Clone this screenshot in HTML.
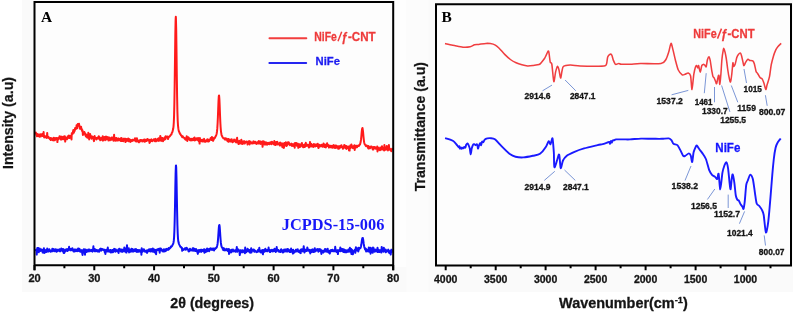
<!DOCTYPE html>
<html><head><meta charset="utf-8"><style>
html,body{margin:0;padding:0;background:#fff;}
body{width:793px;height:313px;overflow:hidden;font-family:"Liberation Sans",sans-serif;}
svg{display:block;will-change:transform;}
</style></head><body>
<svg width="793" height="313" viewBox="0 0 793 313">
<rect x="22" y="0" width="771" height="292" fill="#fafafa"/>
<rect x="395" y="0" width="11.5" height="267" fill="#fefefe"/>
<rect x="406.5" y="0" width="22" height="292" fill="#fcfcfc"/>
<rect x="35" y="3" width="357" height="261" fill="#fdfdfd"/>
<rect x="437" y="5" width="353" height="259" fill="#fdfdfd"/>
<polyline points="35.5,134.3 35.8,132.6 36.1,133.8 36.4,135.0 36.7,133.8 37.0,136.3 37.3,134.6 37.6,134.3 37.9,136.0 38.2,135.2 38.5,135.4 38.8,134.4 39.1,135.2 39.4,136.8 39.7,135.8 40.0,135.7 40.3,134.3 40.6,136.6 40.9,136.4 41.2,134.9 41.5,135.0 41.8,135.2 42.1,134.0 42.4,134.2 42.7,136.1 43.0,135.7 43.3,135.0 43.6,132.0 43.9,136.0 44.2,137.5 44.5,136.9 44.8,137.2 45.1,137.3 45.4,136.9 45.7,136.4 46.0,137.0 46.3,136.0 46.6,137.8 46.9,138.0 47.2,132.9 47.5,137.6 47.8,137.4 48.1,136.9 48.4,136.7 48.7,137.2 49.0,138.3 49.3,138.1 49.6,138.4 49.9,139.1 50.2,138.6 50.5,138.0 50.8,140.0 51.1,139.1 51.4,138.7 51.7,138.2 52.0,139.0 52.3,139.8 52.6,140.2 52.9,139.8 53.2,140.3 53.5,140.4 53.8,137.7 54.1,139.3 54.4,140.3 54.7,138.3 55.0,140.2 55.3,138.3 55.6,139.3 55.9,138.2 56.2,138.1 56.5,138.0 56.8,139.6 57.1,138.4 57.4,142.1 57.7,138.3 58.0,138.0 58.3,139.3 58.6,138.6 58.9,138.5 59.2,138.1 59.5,136.3 59.8,138.1 60.1,136.6 60.4,136.7 60.7,139.4 61.0,136.6 61.3,138.9 61.6,139.5 61.9,138.2 62.2,137.4 62.5,139.0 62.8,138.4 63.1,136.7 63.4,136.9 63.7,139.2 64.0,136.5 64.3,138.6 64.6,136.4 64.9,136.2 65.2,141.6 65.5,139.1 65.8,137.7 66.1,138.3 66.4,138.1 66.7,139.0 67.0,139.2 67.3,138.7 67.6,136.4 67.9,137.5 68.2,137.9 68.5,135.8 68.8,135.6 69.1,137.3 69.4,137.4 69.7,137.9 70.0,135.7 70.3,136.5 70.6,136.0 70.9,136.1 71.2,135.9 71.5,139.5 71.8,133.3 72.1,133.2 72.4,133.1 72.7,133.9 73.0,131.7 73.3,130.1 73.6,131.6 73.9,132.7 74.2,130.1 74.5,131.2 74.8,130.2 75.1,128.1 75.4,129.0 75.7,129.1 76.0,127.8 76.3,128.6 76.6,125.2 76.9,125.8 77.2,128.3 77.5,125.6 77.8,124.0 78.1,125.9 78.4,124.0 78.7,124.7 79.0,123.7 79.3,125.7 79.6,126.1 79.9,128.7 80.2,127.1 80.5,126.7 80.8,126.9 81.1,126.8 81.4,129.4 81.7,128.9 82.0,130.8 82.3,130.0 82.6,130.8 82.9,135.0 83.2,133.4 83.5,132.6 83.8,133.2 84.1,133.7 84.4,132.1 84.7,133.9 85.0,133.1 85.3,135.2 85.6,135.4 85.9,136.5 86.2,134.5 86.5,136.2 86.8,135.9 87.1,137.5 87.4,137.7 87.7,137.5 88.0,137.5 88.3,132.8 88.6,137.1 88.9,137.6 89.2,139.4 89.5,137.9 89.8,136.6 90.1,134.1 90.4,136.5 90.7,135.4 91.0,136.9 91.3,137.1 91.6,138.7 91.9,138.3 92.2,136.4 92.5,137.4 92.8,136.9 93.1,138.5 93.4,138.0 93.7,140.2 94.0,141.1 94.3,138.8 94.6,136.1 94.9,138.5 95.2,138.5 95.5,138.3 95.8,137.9 96.1,138.3 96.4,139.5 96.7,138.1 97.0,138.9 97.3,138.1 97.6,137.5 97.9,137.8 98.2,137.3 98.5,138.6 98.8,136.2 99.1,138.7 99.4,136.9 99.7,139.4 100.0,137.8 100.3,140.3 100.6,139.0 100.9,138.7 101.2,138.7 101.5,139.8 101.8,137.7 102.1,138.5 102.4,137.7 102.7,136.3 103.0,140.7 103.3,138.9 103.6,138.5 103.9,138.6 104.2,137.1 104.5,137.0 104.8,137.6 105.1,140.2 105.4,138.8 105.7,139.9 106.0,136.5 106.3,137.9 106.6,139.2 106.9,138.0 107.2,138.3 107.5,138.6 107.8,136.9 108.1,137.6 108.4,140.5 108.7,138.7 109.0,139.4 109.3,138.1 109.6,137.6 109.9,140.3 110.2,139.6 110.5,138.6 110.8,139.1 111.1,139.0 111.4,139.8 111.7,137.5 112.0,139.6 112.3,138.6 112.6,139.3 112.9,138.2 113.2,137.3 113.5,140.7 113.8,139.4 114.1,134.7 114.4,139.6 114.7,139.9 115.0,140.4 115.3,138.0 115.6,140.7 115.9,140.3 116.2,139.5 116.5,138.1 116.8,140.5 117.1,138.8 117.4,139.0 117.7,139.4 118.0,140.5 118.3,138.5 118.6,139.7 118.9,138.6 119.2,139.9 119.5,139.3 119.8,139.0 120.1,139.3 120.4,140.9 120.7,138.4 121.0,138.1 121.3,138.4 121.6,138.0 121.9,141.1 122.2,139.0 122.5,139.2 122.8,139.2 123.1,140.1 123.4,141.2 123.7,139.0 124.0,138.5 124.3,139.3 124.6,139.1 124.9,139.4 125.2,138.7 125.5,142.1 125.8,139.8 126.1,141.4 126.4,140.8 126.7,138.9 127.0,139.6 127.3,140.5 127.6,139.0 127.9,140.8 128.2,138.4 128.5,141.2 128.8,140.9 129.1,140.4 129.4,139.1 129.7,139.6 130.0,139.8 130.3,141.9 130.6,140.0 130.9,140.5 131.2,140.1 131.5,140.2 131.8,141.1 132.1,141.0 132.4,139.7 132.7,139.8 133.0,140.1 133.3,140.4 133.6,140.2 133.9,139.7 134.2,139.7 134.5,140.0 134.8,138.6 135.1,138.2 135.4,141.2 135.7,140.6 136.0,139.1 136.3,139.5 136.6,141.5 136.9,138.2 137.2,140.7 137.5,140.2 137.8,141.4 138.1,140.5 138.4,141.6 138.7,142.1 139.0,142.4 139.3,140.4 139.6,141.6 139.9,141.5 140.2,139.9 140.5,140.5 140.8,140.0 141.1,140.8 141.4,140.3 141.7,140.0 142.0,141.0 142.3,141.5 142.6,141.0 142.9,141.0 143.2,140.1 143.5,140.1 143.8,140.4 144.1,139.6 144.4,141.7 144.7,140.1 145.0,139.6 145.3,141.6 145.6,140.4 145.9,140.1 146.2,140.7 146.5,141.0 146.8,139.4 147.1,140.3 147.4,138.9 147.7,139.9 148.0,139.9 148.3,140.4 148.6,139.7 148.9,139.7 149.2,139.7 149.5,142.9 149.8,142.5 150.1,140.2 150.4,141.5 150.7,140.7 151.0,140.0 151.3,139.4 151.6,141.0 151.9,140.6 152.2,140.9 152.5,141.1 152.8,140.8 153.1,140.2 153.4,139.6 153.7,139.7 154.0,139.2 154.3,139.6 154.6,139.7 154.9,141.2 155.2,139.6 155.5,138.9 155.8,141.1 156.1,141.3 156.4,140.6 156.7,140.7 157.0,139.9 157.3,140.2 157.6,138.9 157.9,140.6 158.2,140.9 158.5,138.3 158.8,139.9 159.1,140.7 159.4,139.4 159.7,140.1 160.0,138.8 160.3,135.9 160.6,138.9 160.9,138.3 161.2,141.0 161.5,138.4 161.8,137.9 162.1,138.4 162.4,138.5 162.7,138.0 163.0,141.2 163.3,139.7 163.6,138.7 163.9,139.5 164.2,139.0 164.5,139.8 164.8,137.2 165.1,137.8 165.4,139.1 165.7,136.2 166.0,138.0 166.3,137.0 166.6,136.8 166.9,137.1 167.2,137.2 167.5,136.6 167.8,136.6 168.1,139.1 168.4,137.6 168.7,137.3 169.0,136.7 169.3,136.7 169.6,136.5 169.9,135.9 170.2,135.9 170.5,135.2 170.8,134.9 171.1,134.6 171.4,134.5 171.7,133.2 172.0,132.6 172.3,132.3 172.6,131.2 172.9,130.0 173.2,128.8 173.5,126.6 173.8,122.5 174.1,115.0 174.4,102.1 174.7,83.0 175.0,59.2 175.3,35.9 175.6,20.2 175.8,16.7 175.9,17.8 176.2,29.5 176.5,51.1 176.8,75.4 177.1,96.4 177.4,111.4 177.7,120.5 178.0,125.5 178.3,128.2 178.6,130.0 178.9,131.4 179.2,131.8 179.5,132.7 179.8,133.3 180.1,134.0 180.4,134.2 180.7,134.6 181.0,135.5 181.3,135.4 181.6,135.7 181.9,136.3 182.2,137.3 182.5,136.5 182.8,136.3 183.1,137.3 183.4,137.2 183.7,137.5 184.0,137.6 184.3,137.9 184.6,138.8 184.9,138.7 185.2,139.2 185.5,139.6 185.8,137.9 186.1,138.8 186.4,139.7 186.7,136.2 187.0,137.4 187.3,140.9 187.6,137.4 187.9,139.0 188.2,137.3 188.5,138.4 188.8,137.6 189.1,138.9 189.4,139.7 189.7,140.0 190.0,140.2 190.3,139.1 190.6,138.9 190.9,139.9 191.2,140.4 191.5,139.8 191.8,138.7 192.1,140.1 192.4,140.1 192.7,140.2 193.0,139.6 193.3,138.8 193.6,138.3 193.9,139.9 194.2,139.0 194.5,137.6 194.8,140.5 195.1,139.5 195.4,139.2 195.7,140.0 196.0,138.5 196.3,139.4 196.6,138.9 196.9,138.4 197.2,139.3 197.5,139.9 197.8,139.9 198.1,138.0 198.4,140.3 198.7,141.3 199.0,140.7 199.3,140.3 199.6,143.6 199.9,138.1 200.2,140.7 200.5,139.7 200.8,140.4 201.1,140.4 201.4,141.2 201.7,140.0 202.0,139.7 202.3,140.2 202.6,139.8 202.9,141.6 203.2,141.4 203.5,141.2 203.8,139.6 204.1,138.9 204.4,141.0 204.7,141.6 205.0,141.3 205.3,141.1 205.6,141.6 205.9,140.6 206.2,140.8 206.5,140.9 206.8,141.1 207.1,139.5 207.4,140.5 207.7,139.3 208.0,141.4 208.3,140.4 208.6,140.8 208.9,141.4 209.2,141.1 209.5,139.7 209.8,139.8 210.1,139.2 210.4,139.5 210.7,137.9 211.0,139.2 211.3,140.0 211.6,139.1 211.9,136.9 212.2,140.0 212.5,139.8 212.8,137.8 213.1,140.8 213.4,140.0 213.7,139.5 214.0,138.3 214.3,138.0 214.6,138.2 214.9,138.0 215.2,137.0 215.5,136.7 215.8,136.0 216.1,135.5 216.4,134.6 216.7,133.4 217.0,131.4 217.3,128.4 217.6,123.6 217.9,117.0 218.2,109.1 218.5,101.4 218.8,96.3 219.0,95.5 219.1,95.5 219.4,99.4 219.7,106.4 220.0,114.5 220.3,121.7 220.6,127.0 220.9,130.6 221.2,132.8 221.5,134.5 221.8,135.8 222.1,136.0 222.4,136.7 222.7,137.3 223.0,137.6 223.3,138.2 223.6,138.3 223.9,138.3 224.2,138.6 224.5,138.2 224.8,139.5 225.1,139.4 225.4,138.2 225.7,138.6 226.0,139.8 226.3,139.1 226.6,138.7 226.9,138.7 227.2,139.5 227.5,141.2 227.8,140.0 228.1,139.7 228.4,139.0 228.7,141.8 229.0,140.0 229.3,139.7 229.6,140.4 229.9,139.5 230.2,140.3 230.5,141.5 230.8,141.1 231.1,141.4 231.4,140.8 231.7,139.3 232.0,140.1 232.3,141.7 232.6,142.2 232.9,140.8 233.2,141.2 233.5,141.1 233.8,141.4 234.1,139.5 234.4,140.2 234.7,140.1 235.0,140.6 235.3,141.1 235.6,142.0 235.9,141.6 236.2,142.5 236.5,139.2 236.8,141.5 237.1,137.8 237.4,142.1 237.7,141.1 238.0,142.8 238.3,141.4 238.6,144.1 238.9,143.5 239.2,140.8 239.5,142.1 239.8,141.6 240.1,143.5 240.4,142.7 240.7,142.1 241.0,142.4 241.3,139.7 241.6,143.3 241.9,143.7 242.2,144.0 242.5,142.6 242.8,141.5 243.1,141.3 243.4,141.8 243.7,143.5 244.0,141.9 244.3,141.2 244.6,143.6 244.9,142.7 245.2,142.8 245.5,142.1 245.8,142.2 246.1,141.7 246.4,141.5 246.7,141.7 247.0,141.5 247.3,142.5 247.6,144.5 247.9,142.5 248.2,142.0 248.5,143.4 248.8,142.6 249.1,141.0 249.4,141.9 249.7,144.4 250.0,141.9 250.3,141.7 250.6,141.6 250.9,142.6 251.2,142.4 251.5,142.4 251.8,143.6 252.1,143.6 252.4,142.6 252.7,142.7 253.0,143.1 253.3,141.5 253.6,141.4 253.9,143.3 254.2,142.9 254.5,142.0 254.8,142.6 255.1,142.1 255.4,141.7 255.7,143.2 256.0,143.2 256.3,144.0 256.6,143.2 256.9,142.5 257.2,143.6 257.5,143.1 257.8,141.9 258.1,143.6 258.4,142.2 258.7,141.1 259.0,142.5 259.3,143.6 259.6,143.2 259.9,141.3 260.2,142.5 260.5,141.7 260.8,143.9 261.1,143.8 261.4,141.8 261.7,143.3 262.0,142.7 262.3,143.8 262.6,146.8 262.9,141.3 263.2,143.8 263.5,141.7 263.8,141.4 264.1,142.2 264.4,144.3 264.7,144.1 265.0,144.6 265.3,142.2 265.6,143.9 265.9,143.1 266.2,143.9 266.5,142.5 266.8,144.1 267.1,144.8 267.4,143.9 267.7,142.9 268.0,143.9 268.3,143.6 268.6,143.9 268.9,142.7 269.2,144.2 269.5,143.9 269.8,143.9 270.1,143.4 270.4,142.3 270.7,143.0 271.0,143.8 271.3,144.2 271.6,142.9 271.9,141.7 272.2,142.1 272.5,143.6 272.8,143.4 273.1,143.7 273.4,143.9 273.7,144.2 274.0,144.3 274.3,141.1 274.6,143.6 274.9,143.1 275.2,145.1 275.5,144.2 275.8,144.3 276.1,142.1 276.4,144.4 276.7,143.3 277.0,142.4 277.3,141.8 277.6,144.4 277.9,144.3 278.2,144.2 278.5,144.2 278.8,144.3 279.1,144.3 279.4,142.9 279.7,145.4 280.0,142.7 280.3,142.5 280.6,142.9 280.9,143.3 281.2,145.5 281.5,144.3 281.8,144.9 282.1,143.5 282.4,147.2 282.7,146.7 283.0,143.6 283.3,145.2 283.6,145.1 283.9,148.0 284.2,145.5 284.5,143.1 284.8,143.9 285.1,145.6 285.4,143.0 285.7,142.4 286.0,143.9 286.3,145.9 286.6,146.0 286.9,144.0 287.2,142.6 287.5,144.9 287.8,143.4 288.1,142.4 288.4,142.3 288.7,142.3 289.0,142.9 289.3,143.7 289.6,144.4 289.9,145.2 290.2,144.6 290.5,144.7 290.8,144.0 291.1,144.3 291.4,143.6 291.7,144.7 292.0,146.0 292.3,144.9 292.6,144.2 292.9,144.8 293.2,144.9 293.5,145.8 293.8,146.2 294.1,145.4 294.4,143.4 294.7,147.7 295.0,143.0 295.3,144.6 295.6,145.4 295.9,143.0 296.2,143.0 296.5,144.1 296.8,145.7 297.1,143.5 297.4,145.7 297.7,143.7 298.0,143.9 298.3,147.8 298.6,145.1 298.9,144.7 299.2,145.3 299.5,144.3 299.8,146.9 300.1,146.5 300.4,146.8 300.7,144.6 301.0,145.2 301.3,145.4 301.6,145.4 301.9,142.9 302.2,145.8 302.5,146.3 302.8,146.2 303.1,147.1 303.4,146.4 303.7,147.1 304.0,144.7 304.3,144.7 304.6,146.8 304.9,147.0 305.2,144.2 305.5,145.9 305.8,142.8 306.1,146.0 306.4,144.2 306.7,144.9 307.0,145.0 307.3,145.7 307.6,144.9 307.9,145.5 308.2,145.7 308.5,144.9 308.8,147.5 309.1,146.7 309.4,147.3 309.7,146.9 310.0,141.9 310.3,143.7 310.6,146.1 310.9,145.5 311.2,145.9 311.5,144.1 311.8,146.5 312.1,144.7 312.4,144.7 312.7,145.8 313.0,146.6 313.3,145.4 313.6,146.9 313.9,144.0 314.2,145.5 314.5,146.0 314.8,145.1 315.1,144.5 315.4,146.4 315.7,145.1 316.0,145.2 316.3,144.5 316.6,146.1 316.9,144.6 317.2,144.8 317.5,146.2 317.8,143.8 318.1,146.7 318.4,148.0 318.7,147.7 319.0,146.5 319.3,145.1 319.6,144.9 319.9,145.3 320.2,145.5 320.5,146.3 320.8,146.4 321.1,144.9 321.4,144.9 321.7,144.8 322.0,145.0 322.3,145.5 322.6,146.8 322.9,144.7 323.2,145.7 323.5,143.4 323.8,144.4 324.1,145.0 324.4,146.9 324.7,145.8 325.0,144.9 325.3,144.7 325.6,145.6 325.9,147.4 326.2,144.5 326.5,146.4 326.8,144.4 327.1,143.3 327.4,145.0 327.7,146.0 328.0,144.8 328.3,146.1 328.6,145.6 328.9,147.6 329.2,146.3 329.5,145.6 329.8,146.0 330.1,146.0 330.4,147.3 330.7,145.7 331.0,147.3 331.3,146.4 331.6,146.0 331.9,145.9 332.2,147.7 332.5,147.4 332.8,146.5 333.1,147.6 333.4,145.3 333.7,145.1 334.0,145.9 334.3,146.1 334.6,147.7 334.9,145.9 335.2,148.1 335.5,145.6 335.8,147.6 336.1,147.8 336.4,145.7 336.7,145.9 337.0,145.9 337.3,146.7 337.6,147.8 337.9,147.6 338.2,148.9 338.5,146.2 338.8,147.6 339.1,147.9 339.4,148.4 339.7,148.2 340.0,146.0 340.3,146.8 340.6,145.9 340.9,146.8 341.2,147.1 341.5,145.3 341.8,147.2 342.1,147.0 342.4,146.8 342.7,146.9 343.0,148.8 343.3,147.1 343.6,146.9 343.9,146.6 344.2,145.1 344.5,147.5 344.8,147.7 345.1,145.5 345.4,146.3 345.7,148.2 346.0,147.4 346.3,148.9 346.6,145.9 346.9,146.4 347.2,147.9 347.5,147.4 347.8,148.1 348.1,147.4 348.4,148.1 348.7,146.5 349.0,150.3 349.3,148.5 349.6,150.6 349.9,146.2 350.2,148.3 350.5,145.2 350.8,147.8 351.1,146.0 351.4,144.4 351.7,146.3 352.0,146.9 352.3,146.2 352.6,147.7 352.9,148.1 353.2,146.7 353.5,147.6 353.8,145.9 354.1,146.2 354.4,145.2 354.7,150.0 355.0,146.8 355.3,145.7 355.6,146.2 355.9,147.4 356.2,147.4 356.5,145.8 356.8,147.2 357.1,147.2 357.4,146.3 357.7,145.9 358.0,145.7 358.3,145.5 358.6,145.7 358.9,145.9 359.2,145.2 359.5,145.2 359.8,144.4 360.1,144.3 360.4,143.1 360.7,141.8 361.0,139.7 361.3,136.8 361.6,133.4 361.9,130.4 362.2,128.4 362.4,129.3 362.5,127.9 362.8,129.8 363.1,132.4 363.4,135.9 363.7,138.9 364.0,141.3 364.3,143.0 364.6,144.0 364.9,144.5 365.2,144.8 365.5,144.9 365.8,145.9 366.1,146.1 366.4,145.6 366.7,145.5 367.0,145.6 367.3,146.5 367.6,146.2 367.9,147.1 368.2,148.4 368.5,145.9 368.8,148.5 369.1,146.8 369.4,147.1 369.7,147.4 370.0,148.2 370.3,147.2 370.6,147.8 370.9,146.5 371.2,146.8 371.5,146.6 371.8,146.7 372.1,147.6 372.4,147.5 372.7,149.4 373.0,148.6 373.3,149.6 373.6,147.0 373.9,148.1 374.2,148.0 374.5,147.4 374.8,148.2 375.1,147.1 375.4,147.6 375.7,148.8 376.0,147.7 376.3,147.5 376.6,147.9 376.9,148.4 377.2,146.6 377.5,151.4 377.8,148.6 378.1,147.5 378.4,148.3 378.7,149.4 379.0,149.7 379.3,148.7 379.6,148.7 379.9,150.3 380.2,147.5 380.5,149.9 380.8,148.4 381.1,149.4 381.4,149.1 381.7,149.5 382.0,146.2 382.3,148.8 382.6,149.0 382.9,148.2 383.2,149.6 383.5,149.8 383.8,147.8 384.1,150.5 384.4,145.0 384.7,150.2 385.0,147.7 385.3,148.9 385.6,148.8 385.9,147.3 386.2,149.6 386.5,149.4 386.8,145.9 387.1,149.1 387.4,149.4 387.7,148.3 388.0,150.4 388.3,148.8 388.6,148.3 388.9,145.0 389.2,149.5 389.5,149.5 389.8,149.1 390.1,148.9 390.4,150.2 390.7,150.2 391.0,149.4 391.3,151.2 391.6,149.4 391.9,148.9 392.2,149.8" fill="none" stroke="#ff1a1a" stroke-width="2.0" stroke-linejoin="round"/>
<polyline points="35.5,251.1 35.8,250.1 36.1,250.6 36.4,249.5 36.7,254.6 37.0,251.5 37.3,248.0 37.6,251.2 37.9,249.8 38.2,248.0 38.5,251.9 38.8,252.1 39.1,250.1 39.4,251.0 39.7,248.4 40.0,249.8 40.3,251.0 40.6,250.9 40.9,250.1 41.2,249.4 41.5,250.7 41.8,249.8 42.1,250.8 42.4,250.6 42.7,252.6 43.0,250.2 43.3,250.1 43.6,249.9 43.9,248.2 44.2,252.9 44.5,249.6 44.8,251.0 45.1,251.3 45.4,250.1 45.7,252.2 46.0,251.0 46.3,252.0 46.6,251.3 46.9,250.2 47.2,248.6 47.5,249.0 47.8,251.0 48.1,251.7 48.4,250.6 48.7,251.3 49.0,251.0 49.3,249.2 49.6,251.1 49.9,250.8 50.2,250.3 50.5,251.7 50.8,251.7 51.1,250.7 51.4,251.4 51.7,250.9 52.0,250.6 52.3,248.8 52.6,251.2 52.9,250.5 53.2,249.5 53.5,249.0 53.8,250.4 54.1,250.7 54.4,251.2 54.7,250.5 55.0,250.9 55.3,249.2 55.6,251.1 55.9,249.6 56.2,249.7 56.5,251.8 56.8,249.6 57.1,250.8 57.4,251.2 57.7,250.4 58.0,249.8 58.3,249.9 58.6,250.3 58.9,250.7 59.2,250.9 59.5,249.3 59.8,250.7 60.1,251.4 60.4,251.2 60.7,249.7 61.0,250.5 61.3,248.5 61.6,250.2 61.9,249.0 62.2,249.0 62.5,250.7 62.8,251.2 63.1,248.9 63.4,251.6 63.7,253.0 64.0,251.7 64.3,253.0 64.6,250.6 64.9,251.9 65.2,249.4 65.5,250.3 65.8,250.9 66.1,250.8 66.4,250.2 66.7,250.4 67.0,248.9 67.3,250.5 67.6,251.0 67.9,250.2 68.2,250.3 68.5,250.0 68.8,249.1 69.1,246.8 69.4,249.6 69.7,249.7 70.0,249.1 70.3,250.4 70.6,249.0 70.9,249.0 71.2,248.8 71.5,250.1 71.8,250.2 72.1,250.3 72.4,248.3 72.7,250.0 73.0,249.8 73.3,250.1 73.6,251.5 73.9,250.5 74.2,249.6 74.5,251.5 74.8,249.5 75.1,250.0 75.4,249.5 75.7,250.5 76.0,251.1 76.3,249.7 76.6,250.7 76.9,250.6 77.2,251.1 77.5,249.3 77.8,249.7 78.1,248.6 78.4,250.1 78.7,248.6 79.0,251.1 79.3,249.5 79.6,249.1 79.9,251.5 80.2,251.7 80.5,250.3 80.8,251.4 81.1,251.7 81.4,250.3 81.7,251.6 82.0,250.2 82.3,253.8 82.6,255.0 82.9,251.0 83.2,250.4 83.5,251.3 83.8,249.2 84.1,249.4 84.4,252.6 84.7,250.4 85.0,254.7 85.3,249.6 85.6,252.4 85.9,250.5 86.2,249.9 86.5,250.3 86.8,251.9 87.1,251.4 87.4,250.9 87.7,250.0 88.0,250.6 88.3,249.4 88.6,250.0 88.9,251.6 89.2,249.8 89.5,249.5 89.8,250.1 90.1,250.5 90.4,250.7 90.7,250.2 91.0,251.1 91.3,250.2 91.6,249.9 91.9,250.8 92.2,250.9 92.5,251.6 92.8,251.0 93.1,249.1 93.4,246.3 93.7,250.7 94.0,250.7 94.3,249.7 94.6,248.9 94.9,251.3 95.2,250.7 95.5,251.1 95.8,249.8 96.1,250.9 96.4,250.2 96.7,250.3 97.0,250.0 97.3,251.5 97.6,251.0 97.9,251.5 98.2,250.6 98.5,250.3 98.8,251.4 99.1,251.6 99.4,249.9 99.7,249.5 100.0,249.0 100.3,250.5 100.6,249.4 100.9,248.6 101.2,250.7 101.5,249.0 101.8,248.9 102.1,249.4 102.4,249.7 102.7,249.1 103.0,249.5 103.3,250.1 103.6,250.0 103.9,249.7 104.2,250.6 104.5,249.7 104.8,252.3 105.1,250.1 105.4,253.9 105.7,250.8 106.0,251.3 106.3,249.7 106.6,250.1 106.9,249.8 107.2,251.6 107.5,251.3 107.8,247.6 108.1,250.5 108.4,250.2 108.7,251.1 109.0,251.6 109.3,250.3 109.6,250.7 109.9,250.5 110.2,250.1 110.5,252.2 110.8,250.0 111.1,252.6 111.4,250.2 111.7,251.8 112.0,251.8 112.3,251.3 112.6,250.0 112.9,252.3 113.2,250.2 113.5,251.8 113.8,249.4 114.1,248.9 114.4,249.3 114.7,249.0 115.0,250.0 115.3,250.1 115.6,251.7 115.9,249.5 116.2,251.0 116.5,250.4 116.8,251.0 117.1,251.1 117.4,251.5 117.7,251.0 118.0,251.2 118.3,249.4 118.6,252.9 118.9,249.4 119.2,248.7 119.5,250.8 119.8,250.3 120.1,249.7 120.4,249.4 120.7,250.8 121.0,251.5 121.3,250.7 121.6,249.4 121.9,251.2 122.2,251.9 122.5,249.9 122.8,249.7 123.1,249.9 123.4,250.3 123.7,250.7 124.0,251.5 124.3,247.5 124.6,248.6 124.9,248.4 125.2,249.2 125.5,248.9 125.8,251.9 126.1,249.5 126.4,252.6 126.7,248.4 127.0,245.2 127.3,249.4 127.6,250.9 127.9,250.5 128.2,251.2 128.5,248.6 128.8,248.3 129.1,252.4 129.4,250.2 129.7,250.0 130.0,250.6 130.3,249.8 130.6,250.0 130.9,251.8 131.2,250.2 131.5,248.8 131.8,250.2 132.1,250.9 132.4,249.7 132.7,249.1 133.0,251.7 133.3,251.5 133.6,251.1 133.9,251.3 134.2,250.5 134.5,250.1 134.8,249.4 135.1,250.3 135.4,251.3 135.7,251.0 136.0,249.1 136.3,249.7 136.6,249.9 136.9,251.9 137.2,251.4 137.5,249.9 137.8,250.3 138.1,250.1 138.4,251.8 138.7,250.2 139.0,250.0 139.3,251.6 139.6,251.6 139.9,250.3 140.2,251.1 140.5,251.8 140.8,250.5 141.1,250.2 141.4,254.8 141.7,248.3 142.0,249.6 142.3,252.0 142.6,249.6 142.9,250.7 143.2,250.2 143.5,250.5 143.8,249.2 144.1,249.6 144.4,251.4 144.7,250.7 145.0,250.7 145.3,251.4 145.6,251.8 145.9,250.8 146.2,250.6 146.5,251.8 146.8,250.7 147.1,252.9 147.4,251.3 147.7,251.0 148.0,249.9 148.3,250.1 148.6,249.5 148.9,251.2 149.2,250.3 149.5,250.1 149.8,249.2 150.1,250.5 150.4,251.5 150.7,251.4 151.0,249.2 151.3,249.0 151.6,249.4 151.9,249.3 152.2,251.4 152.5,250.6 152.8,248.6 153.1,251.7 153.4,249.0 153.7,249.3 154.0,249.8 154.3,251.7 154.6,252.4 154.9,249.7 155.2,250.2 155.5,250.1 155.8,251.3 156.1,254.2 156.4,249.7 156.7,250.7 157.0,249.4 157.3,249.9 157.6,249.2 157.9,249.6 158.2,249.2 158.5,250.3 158.8,249.8 159.1,248.7 159.4,250.1 159.7,252.7 160.0,248.6 160.3,248.6 160.6,249.2 160.9,248.6 161.2,250.2 161.5,249.3 161.8,249.7 162.1,250.1 162.4,251.4 162.7,251.0 163.0,251.1 163.3,251.5 163.6,250.4 163.9,249.3 164.2,251.6 164.5,249.6 164.8,250.9 165.1,251.3 165.4,250.6 165.7,249.3 166.0,250.8 166.3,248.9 166.6,249.2 166.9,248.9 167.2,249.9 167.5,249.4 167.8,249.5 168.1,249.1 168.4,249.8 168.7,248.0 169.0,249.1 169.3,248.2 169.6,248.5 169.9,248.3 170.2,247.8 170.5,247.7 170.8,246.5 171.1,247.1 171.4,246.6 171.7,246.3 172.0,246.2 172.3,245.5 172.6,244.9 172.9,244.3 173.2,243.8 173.5,242.5 173.8,240.7 174.1,237.1 174.4,230.8 174.7,220.4 175.0,205.9 175.3,189.0 175.6,174.0 175.9,165.8 176.0,165.4 176.2,167.6 176.5,178.5 176.8,194.7 177.1,211.1 177.4,224.4 177.7,233.3 178.0,238.5 178.3,241.3 178.6,242.6 178.9,243.6 179.2,244.4 179.5,245.0 179.8,245.5 180.1,246.2 180.4,246.8 180.7,246.8 181.0,247.4 181.3,247.4 181.6,248.1 181.9,247.8 182.2,250.8 182.5,249.0 182.8,248.9 183.1,249.5 183.4,250.0 183.7,249.5 184.0,249.4 184.3,249.0 184.6,248.7 184.9,248.4 185.2,248.2 185.5,249.7 185.8,249.7 186.1,248.1 186.4,247.8 186.7,249.2 187.0,248.2 187.3,248.5 187.6,249.6 187.9,249.6 188.2,249.6 188.5,251.2 188.8,251.4 189.1,250.7 189.4,250.5 189.7,250.9 190.0,248.7 190.3,250.3 190.6,249.4 190.9,249.8 191.2,250.0 191.5,250.0 191.8,249.9 192.1,250.6 192.4,249.7 192.7,248.2 193.0,250.1 193.3,250.6 193.6,248.3 193.9,248.8 194.2,250.3 194.5,249.0 194.8,250.8 195.1,249.6 195.4,250.7 195.7,251.0 196.0,248.9 196.3,251.2 196.6,250.1 196.9,250.8 197.2,250.4 197.5,252.4 197.8,253.9 198.1,252.5 198.4,250.4 198.7,250.0 199.0,250.4 199.3,251.3 199.6,250.1 199.9,251.8 200.2,250.1 200.5,251.1 200.8,249.7 201.1,250.6 201.4,251.9 201.7,249.7 202.0,250.0 202.3,250.3 202.6,251.0 202.9,250.2 203.2,249.8 203.5,251.3 203.8,249.7 204.1,249.2 204.4,252.7 204.7,252.1 205.0,249.8 205.3,250.7 205.6,252.1 205.9,249.7 206.2,251.8 206.5,251.3 206.8,250.1 207.1,248.6 207.4,251.3 207.7,250.8 208.0,249.6 208.3,249.6 208.6,249.3 208.9,250.0 209.2,251.2 209.5,248.7 209.8,249.2 210.1,248.9 210.4,249.1 210.7,248.2 211.0,249.8 211.3,249.7 211.6,249.7 211.9,249.6 212.2,249.6 212.5,248.6 212.8,249.9 213.1,249.8 213.4,248.4 213.7,249.6 214.0,250.5 214.3,248.4 214.6,249.4 214.9,249.2 215.2,248.9 215.5,248.7 215.8,248.0 216.1,248.1 216.4,247.5 216.7,247.4 217.0,246.3 217.3,245.2 217.6,243.7 217.9,240.9 218.2,237.1 218.5,232.6 218.8,228.2 219.1,225.4 219.3,225.7 219.4,224.9 219.7,227.0 220.0,231.0 220.3,235.7 220.6,239.7 220.9,242.9 221.2,245.1 221.5,246.3 221.8,247.1 222.1,247.6 222.4,247.9 222.7,248.9 223.0,248.0 223.3,250.1 223.6,249.1 223.9,250.3 224.2,248.5 224.5,250.3 224.8,250.2 225.1,250.4 225.4,250.0 225.7,249.4 226.0,250.0 226.3,249.3 226.6,249.5 226.9,248.8 227.2,250.6 227.5,250.9 227.8,250.8 228.1,251.2 228.4,249.7 228.7,249.0 229.0,253.9 229.3,249.4 229.6,250.9 229.9,249.9 230.2,251.0 230.5,251.4 230.8,252.5 231.1,251.3 231.4,252.2 231.7,249.8 232.0,250.5 232.3,251.0 232.6,250.5 232.9,249.5 233.2,251.4 233.5,250.1 233.8,251.1 234.1,251.3 234.4,251.1 234.7,250.7 235.0,250.3 235.3,251.4 235.6,251.7 235.9,250.0 236.2,250.2 236.5,249.7 236.8,247.1 237.1,251.8 237.4,249.3 237.7,250.2 238.0,250.1 238.3,249.5 238.6,250.9 238.9,250.1 239.2,251.1 239.5,252.4 239.8,255.1 240.1,252.4 240.4,250.3 240.7,250.4 241.0,251.3 241.3,250.6 241.6,252.3 241.9,250.8 242.2,250.2 242.5,250.2 242.8,252.2 243.1,251.9 243.4,250.9 243.7,250.6 244.0,251.0 244.3,251.7 244.6,251.3 244.9,253.2 245.2,247.6 245.5,250.6 245.8,251.1 246.1,252.2 246.4,250.9 246.7,250.8 247.0,250.3 247.3,250.2 247.6,248.8 247.9,251.3 248.2,249.6 248.5,250.6 248.8,249.9 249.1,250.0 249.4,251.9 249.7,250.8 250.0,250.4 250.3,252.8 250.6,251.3 250.9,250.4 251.2,248.2 251.5,252.4 251.8,249.9 252.1,250.6 252.4,250.8 252.7,249.7 253.0,250.8 253.3,250.6 253.6,249.5 253.9,249.7 254.2,251.6 254.5,250.1 254.8,251.8 255.1,251.3 255.4,251.2 255.7,251.1 256.0,251.3 256.3,251.8 256.6,252.2 256.9,251.8 257.2,251.9 257.5,251.0 257.8,250.8 258.1,249.8 258.4,251.6 258.7,250.4 259.0,251.2 259.3,247.8 259.6,250.1 259.9,250.5 260.2,252.1 260.5,251.3 260.8,252.4 261.1,251.8 261.4,250.4 261.7,251.8 262.0,252.6 262.3,252.3 262.6,250.0 262.9,254.3 263.2,251.4 263.5,251.4 263.8,249.9 264.1,250.1 264.4,251.8 264.7,251.6 265.0,250.3 265.3,248.8 265.6,250.6 265.9,249.4 266.2,251.1 266.5,250.1 266.8,251.2 267.1,250.6 267.4,250.0 267.7,251.2 268.0,250.5 268.3,250.4 268.6,247.6 268.9,250.2 269.2,250.1 269.5,250.5 269.8,252.1 270.1,249.9 270.4,252.0 270.7,251.1 271.0,251.0 271.3,251.0 271.6,250.8 271.9,249.8 272.2,250.0 272.5,251.4 272.8,251.0 273.1,250.3 273.4,249.9 273.7,251.2 274.0,250.4 274.3,249.8 274.6,248.8 274.9,250.4 275.2,251.2 275.5,251.4 275.8,251.9 276.1,249.4 276.4,251.1 276.7,247.0 277.0,249.9 277.3,249.4 277.6,250.0 277.9,250.3 278.2,250.0 278.5,251.6 278.8,250.9 279.1,251.6 279.4,251.3 279.7,251.5 280.0,251.9 280.3,250.4 280.6,249.9 280.9,252.0 281.2,249.2 281.5,251.3 281.8,251.5 282.1,251.1 282.4,250.6 282.7,250.4 283.0,252.5 283.3,250.8 283.6,251.0 283.9,251.4 284.2,249.5 284.5,251.5 284.8,251.6 285.1,249.9 285.4,250.9 285.7,249.9 286.0,249.3 286.3,250.0 286.6,251.6 286.9,249.5 287.2,251.4 287.5,249.0 287.8,251.4 288.1,249.9 288.4,249.3 288.7,250.9 289.0,250.8 289.3,250.9 289.6,252.1 289.9,251.4 290.2,251.2 290.5,249.7 290.8,251.9 291.1,248.5 291.4,251.4 291.7,251.4 292.0,251.1 292.3,250.4 292.6,251.3 292.9,253.5 293.2,249.8 293.5,253.2 293.8,251.7 294.1,251.7 294.4,251.4 294.7,252.1 295.0,251.1 295.3,250.7 295.6,251.1 295.9,249.8 296.2,249.7 296.5,249.9 296.8,251.5 297.1,250.3 297.4,250.2 297.7,249.3 298.0,250.4 298.3,250.2 298.6,251.9 298.9,252.0 299.2,252.1 299.5,252.2 299.8,250.4 300.1,251.2 300.4,253.0 300.7,253.1 301.0,249.6 301.3,250.6 301.6,250.1 301.9,249.3 302.2,251.0 302.5,251.1 302.8,251.5 303.1,251.1 303.4,251.0 303.7,246.2 304.0,249.6 304.3,250.5 304.6,252.5 304.9,249.5 305.2,250.1 305.5,250.8 305.8,250.9 306.1,250.2 306.4,249.5 306.7,251.1 307.0,250.7 307.3,247.6 307.6,248.6 307.9,250.2 308.2,249.6 308.5,249.6 308.8,250.9 309.1,249.7 309.4,250.1 309.7,251.8 310.0,250.5 310.3,253.4 310.6,250.8 310.9,250.5 311.2,249.7 311.5,252.0 311.8,250.5 312.1,251.7 312.4,249.9 312.7,249.4 313.0,251.9 313.3,249.8 313.6,251.7 313.9,252.0 314.2,250.0 314.5,250.6 314.8,248.2 315.1,251.6 315.4,249.8 315.7,249.7 316.0,250.8 316.3,250.8 316.6,249.8 316.9,250.5 317.2,249.0 317.5,250.0 317.8,250.5 318.1,249.9 318.4,251.7 318.7,250.9 319.0,249.1 319.3,251.1 319.6,249.2 319.9,249.5 320.2,249.4 320.5,250.3 320.8,249.6 321.1,252.0 321.4,253.9 321.7,250.5 322.0,251.5 322.3,250.9 322.6,250.8 322.9,252.3 323.2,252.6 323.5,250.9 323.8,250.5 324.1,251.7 324.4,250.6 324.7,251.3 325.0,249.1 325.3,251.5 325.6,249.9 325.9,249.4 326.2,250.0 326.5,249.6 326.8,249.7 327.1,251.8 327.4,250.5 327.7,248.8 328.0,251.0 328.3,251.9 328.6,252.5 328.9,251.8 329.2,251.3 329.5,250.7 329.8,253.6 330.1,251.3 330.4,251.2 330.7,251.3 331.0,250.0 331.3,250.7 331.6,251.2 331.9,249.9 332.2,250.8 332.5,249.8 332.8,251.2 333.1,251.0 333.4,250.7 333.7,251.1 334.0,250.4 334.3,250.1 334.6,251.2 334.9,251.0 335.2,246.8 335.5,249.4 335.8,251.1 336.1,251.6 336.4,252.0 336.7,250.2 337.0,250.2 337.3,252.0 337.6,250.3 337.9,254.1 338.2,251.6 338.5,250.5 338.8,251.3 339.1,250.5 339.4,249.9 339.7,250.9 340.0,250.1 340.3,247.6 340.6,251.2 340.9,250.5 341.2,251.0 341.5,249.5 341.8,248.9 342.1,250.3 342.4,250.7 342.7,251.5 343.0,249.0 343.3,249.8 343.6,251.9 343.9,251.0 344.2,250.6 344.5,249.6 344.8,250.6 345.1,252.3 345.4,250.3 345.7,252.0 346.0,252.3 346.3,250.5 346.6,252.3 346.9,250.6 347.2,251.9 347.5,250.8 347.8,250.9 348.1,251.0 348.4,249.4 348.7,249.4 349.0,251.8 349.3,250.5 349.6,249.9 349.9,247.8 350.2,251.4 350.5,250.1 350.8,251.8 351.1,249.1 351.4,254.0 351.7,250.1 352.0,249.9 352.3,250.7 352.6,251.4 352.9,254.3 353.2,251.6 353.5,251.0 353.8,251.0 354.1,251.5 354.4,250.3 354.7,250.7 355.0,249.6 355.3,252.8 355.6,249.8 355.9,247.3 356.2,248.8 356.5,249.2 356.8,249.6 357.1,250.5 357.4,249.3 357.7,250.0 358.0,248.1 358.3,251.5 358.6,247.7 358.9,249.9 359.2,248.1 359.5,248.6 359.8,248.4 360.1,248.3 360.4,248.3 360.7,247.4 361.0,246.2 361.3,244.8 361.6,242.7 361.9,240.5 362.2,238.6 362.5,238.0 362.6,237.9 362.8,238.0 363.1,239.2 363.4,241.4 363.7,243.7 364.0,245.4 364.3,247.0 364.6,247.9 364.9,248.8 365.2,249.6 365.5,249.6 365.8,248.6 366.1,251.5 366.4,249.2 366.7,250.7 367.0,250.6 367.3,251.1 367.6,250.2 367.9,249.7 368.2,251.2 368.5,250.7 368.8,247.5 369.1,251.6 369.4,251.8 369.7,250.5 370.0,250.2 370.3,247.7 370.6,253.7 370.9,251.7 371.2,248.2 371.5,250.6 371.8,251.2 372.1,251.1 372.4,250.8 372.7,252.7 373.0,247.5 373.3,251.3 373.6,248.1 373.9,250.5 374.2,251.2 374.5,251.6 374.8,250.3 375.1,251.5 375.4,249.7 375.7,249.5 376.0,250.9 376.3,250.6 376.6,250.5 376.9,250.3 377.2,251.9 377.5,247.7 377.8,251.3 378.1,252.0 378.4,249.4 378.7,250.8 379.0,251.0 379.3,250.2 379.6,252.1 379.9,250.5 380.2,250.6 380.5,250.2 380.8,251.2 381.1,250.6 381.4,252.5 381.7,246.9 382.0,249.8 382.3,249.7 382.6,249.8 382.9,249.2 383.2,250.2 383.5,251.8 383.8,247.7 384.1,249.4 384.4,250.0 384.7,250.4 385.0,250.6 385.3,251.7 385.6,249.6 385.9,252.3 386.2,251.1 386.5,251.1 386.8,250.5 387.1,251.4 387.4,250.3 387.7,250.3 388.0,250.5 388.3,249.6 388.6,250.8 388.9,252.6 389.2,251.7 389.5,253.0 389.8,252.0 390.1,251.0 390.4,252.1 390.7,254.6 391.0,251.9 391.3,249.8 391.6,249.7 391.9,251.7 392.2,251.4" fill="none" stroke="#1010f5" stroke-width="2.0" stroke-linejoin="round"/>
<g stroke="#000" stroke-width="2" fill="none">
<path d="M34.5,1 V270.3 M33.5,2 H394.2 M393.2,1 V270.3 M34.5,265.2 H393.2"/>
<path d="M34.5,265 V270.3 M94.3,265 V270.3 M154.1,265 V270.3 M213.8,265 V270.3 M273.6,265 V270.3 M333.4,265 V270.3 M393.2,265 V270.3 M64.4,265 V268.2 M124.2,265 V268.2 M184.0,265 V268.2 M243.7,265 V268.2 M303.5,265 V268.2 M363.3,265 V268.2"/>
</g>
<g stroke="#000" stroke-width="2" fill="none">
<path d="M436,3.3 V266.5 M435,4.3 H792 M791,3.3 V266.5 M436,265.5 H791"/>
<path d="M445.7,265 V270.3 M495.7,265 V270.3 M545.6,265 V270.3 M595.6,265 V270.3 M645.6,265 V270.3 M695.6,265 V270.3 M745.5,265 V270.3 M470.7,265 V268.2 M520.7,265 V268.2 M570.6,265 V268.2 M620.6,265 V268.2 M670.6,265 V268.2 M720.6,265 V268.2 M770.5,265 V268.2"/>
</g>
<path d="M445.0,43.6 C446.3,43.9 452.0,45.0 454.4,45.5 C456.8,46.0 460.9,47.0 463.0,47.2 C465.1,47.4 468.7,47.1 470.2,46.8 C471.7,46.5 473.4,45.1 474.5,44.8 C475.6,44.5 477.3,44.6 478.8,44.4 C480.3,44.2 484.5,43.5 486.0,43.4 C487.5,43.3 489.1,43.4 490.3,43.6 C491.5,43.8 494.2,44.5 495.3,45.1 C496.4,45.7 497.6,46.8 498.9,48.0 C500.2,49.2 503.2,52.9 504.7,54.4 C506.2,55.9 508.9,58.4 510.4,59.5 C511.9,60.6 514.6,62.1 516.1,62.8 C517.6,63.5 520.4,64.4 521.9,64.8 C523.4,65.2 526.1,65.8 527.6,65.9 C529.1,66.0 531.9,65.6 533.4,65.4 C534.9,65.2 538.0,64.9 539.1,64.5 C540.2,64.1 540.7,63.2 541.4,62.4 C542.1,61.6 543.9,59.5 544.5,58.5 C545.1,57.5 545.7,56.2 546.2,55.2 C546.7,54.2 548.1,50.3 548.6,51.2 C549.1,52.1 549.8,60.3 550.2,62.0 C550.6,63.7 551.3,61.4 551.8,64.0 C552.3,66.6 553.3,80.4 553.8,81.5 C554.3,82.6 555.1,74.0 555.6,72.0 C556.1,70.0 556.9,66.7 557.4,66.4 C557.9,66.1 558.6,68.5 559.0,70.0 C559.4,71.5 560.2,77.9 560.6,78.0 C561.0,78.1 561.6,72.5 562.0,71.0 C562.4,69.5 562.4,67.2 563.5,66.4 C564.6,65.6 567.9,65.2 570.1,65.1 C572.3,65.0 576.7,65.9 580.0,66.0 C583.3,66.1 591.7,66.2 595.1,66.2 C598.5,66.2 603.7,66.1 605.2,65.7 C606.7,65.3 606.4,64.3 606.7,63.2 C607.0,62.1 607.3,58.3 607.7,57.1 C608.1,55.9 609.3,54.6 609.8,54.3 C610.3,54.0 611.3,54.3 611.8,55.1 C612.3,55.9 612.8,58.9 613.3,60.1 C613.8,61.3 614.8,63.7 615.3,64.2 C615.8,64.7 616.3,64.3 616.8,64.2 C617.3,64.1 618.2,63.5 618.8,63.5 C619.4,63.5 619.8,64.1 621.4,64.2 C623.0,64.3 628.0,64.3 630.5,64.2 C633.0,64.1 636.4,63.7 640.5,63.6 C644.6,63.5 657.6,64.0 661.0,63.5 C664.4,63.0 664.9,61.1 665.9,59.5 C666.9,57.9 668.1,53.9 668.8,51.8 C669.5,49.7 670.4,43.7 671.0,43.4 C671.6,43.1 672.4,47.6 673.0,49.9 C673.6,52.2 674.8,57.8 675.5,60.5 C676.2,63.2 677.4,68.1 678.3,70.0 C679.2,71.9 681.3,74.2 682.2,74.8 C683.1,75.4 684.2,74.5 685.0,74.3 C685.8,74.1 687.5,72.9 688.2,73.1 C688.9,73.3 690.1,73.8 690.6,76.0 C691.1,78.2 691.6,89.7 692.0,89.5 C692.4,89.3 693.3,77.3 693.8,74.3 C694.3,71.3 695.0,68.4 695.4,67.2 C695.8,66.0 696.2,65.5 696.5,65.6 C696.8,65.7 697.5,68.0 697.8,68.0 C698.1,68.0 698.3,65.0 698.6,65.6 C698.9,66.2 699.8,72.2 700.2,72.2 C700.6,72.2 701.4,66.6 701.8,65.6 C702.2,64.6 703.0,64.5 703.4,64.4 C703.8,64.3 704.5,64.9 704.9,65.2 C705.3,65.5 705.9,67.5 706.2,66.8 C706.5,66.1 707.1,60.9 707.5,59.6 C707.9,58.3 708.5,56.6 708.9,56.7 C709.3,56.8 709.8,58.5 710.2,60.4 C710.6,62.3 711.4,68.7 711.8,70.8 C712.2,72.9 712.6,75.4 712.9,76.4 C713.2,77.4 713.9,77.4 714.2,78.0 C714.5,78.6 715.2,80.5 715.5,81.2 C715.8,81.9 716.2,84.2 716.6,83.6 C717.0,83.0 717.9,77.4 718.2,76.4 C718.5,75.4 718.8,74.7 719.0,75.8 C719.2,76.9 719.5,84.6 719.8,84.4 C720.1,84.2 720.6,77.3 720.9,74.0 C721.2,70.7 721.6,62.6 721.9,59.6 C722.2,56.6 722.7,53.1 723.0,51.6 C723.3,50.1 723.5,48.3 723.8,48.4 C724.1,48.5 724.8,51.1 725.1,52.4 C725.4,53.7 725.8,55.7 726.2,58.0 C726.6,60.3 727.4,67.2 727.8,70.0 C728.2,72.8 729.0,77.2 729.4,78.8 C729.8,80.4 730.2,82.6 730.5,82.0 C730.8,81.4 731.5,76.6 731.8,74.0 C732.1,71.4 732.7,63.8 732.9,62.8 C733.1,61.8 733.3,66.2 733.6,66.4 C733.9,66.6 734.8,65.2 735.2,64.0 C735.6,62.8 736.4,58.9 736.8,57.6 C737.2,56.3 737.9,55.0 738.4,54.4 C738.9,53.8 740.1,52.9 740.5,53.1 C740.9,53.3 741.2,54.7 741.6,56.0 C742.0,57.3 742.9,61.9 743.2,63.2 C743.5,64.5 743.7,65.7 744.0,65.6 C744.3,65.5 745.1,63.3 745.6,62.4 C746.1,61.5 747.5,59.5 748.0,59.2 C748.5,58.9 749.0,60.2 749.6,60.4 C750.2,60.6 752.2,60.3 752.8,60.8 C753.4,61.3 754.0,62.6 754.4,64.0 C754.8,65.4 755.6,69.9 756.0,71.2 C756.4,72.5 757.1,72.7 757.6,73.5 C758.1,74.3 759.4,76.8 760.0,77.5 C760.6,78.2 761.8,78.4 762.3,79.1 C762.8,79.8 763.4,81.7 763.9,83.1 C764.4,84.5 765.4,89.3 765.8,89.5 C766.2,89.7 766.6,86.4 767.1,84.7 C767.6,83.0 769.0,79.2 769.5,76.7 C770.0,74.2 770.6,68.4 771.1,65.6 C771.6,62.8 772.9,58.1 773.5,56.0 C774.1,53.9 775.3,50.9 775.9,49.6 C776.5,48.3 777.3,47.2 778.0,46.4 C778.7,45.6 780.8,43.8 781.2,43.4" fill="none" stroke="#f03e40" stroke-width="1.55" stroke-linejoin="round"/>
<path d="M445.1,138.2 C445.8,138.4 449.0,139.2 450.2,139.7 C451.4,140.2 453.1,140.8 454.0,141.6 C454.9,142.4 456.6,144.7 457.2,145.4 C457.8,146.1 458.2,146.9 458.5,147.0 C458.8,147.1 459.1,146.0 459.3,146.2 C459.5,146.4 459.6,148.4 459.8,148.6 C460.0,148.8 460.6,147.5 460.8,147.5 C461.0,147.5 461.3,148.8 461.5,148.8 C461.7,148.8 462.1,147.8 462.3,147.7 C462.5,147.6 462.9,148.5 463.2,148.4 C463.5,148.3 464.0,147.1 464.3,147.0 C464.6,146.9 465.0,147.9 465.3,147.6 C465.6,147.3 465.9,145.3 466.2,144.8 C466.5,144.3 467.2,143.4 467.5,143.5 C467.8,143.6 468.4,144.7 468.7,145.4 C469.0,146.1 469.5,147.4 469.8,148.6 C470.1,149.8 470.4,154.4 470.7,154.4 C471.0,154.4 471.4,149.9 471.7,148.6 C472.0,147.3 472.7,145.4 473.0,144.8 C473.3,144.2 473.9,144.1 474.2,144.2 C474.5,144.3 475.2,145.2 475.5,145.2 C475.8,145.2 476.5,144.1 476.8,144.2 C477.1,144.3 477.3,145.4 477.5,146.0 C477.7,146.6 477.9,148.7 478.1,148.6 C478.3,148.5 478.7,146.2 479.0,145.4 C479.3,144.6 479.9,142.9 480.2,142.9 C480.5,142.9 480.8,145.4 481.1,145.2 C481.4,145.0 481.8,142.0 482.1,141.6 C482.4,141.2 483.1,142.5 483.4,142.2 C483.7,141.9 484.2,140.2 484.7,139.7 C485.2,139.2 486.4,138.6 487.3,138.4 C488.2,138.2 490.1,138.1 491.1,138.2 C492.1,138.3 493.8,138.5 494.9,139.3 C496.0,140.1 498.2,142.6 499.4,143.9 C500.6,145.2 502.6,147.3 504.0,148.7 C505.4,150.1 508.3,153.0 509.8,154.1 C511.3,155.2 513.7,156.4 515.5,156.8 C517.3,157.2 520.9,157.5 523.2,157.4 C525.5,157.3 530.6,156.3 532.8,155.8 C535.0,155.3 538.3,155.0 540.0,153.8 C541.7,152.6 544.7,148.7 545.8,147.0 C546.9,145.3 548.0,141.7 548.6,141.3 C549.2,140.9 550.0,144.6 550.5,144.2 C551.0,143.8 552.1,137.4 552.5,138.4 C552.9,139.4 553.5,148.0 553.8,151.8 C554.1,155.6 553.9,166.2 554.4,167.2 C554.9,168.2 556.7,161.2 557.3,159.5 C557.9,157.8 558.7,153.6 559.2,154.7 C559.7,155.8 560.2,167.3 560.7,168.1 C561.2,168.9 562.2,162.2 563.0,160.5 C563.8,158.8 565.3,156.9 566.8,155.7 C568.3,154.5 572.2,152.8 574.5,151.8 C576.8,150.8 581.0,149.3 584.1,148.4 C587.2,147.5 595.0,145.7 597.5,145.1 C600.0,144.5 601.1,144.6 602.7,144.2 C604.3,143.8 608.2,142.1 609.2,142.0 C610.2,141.9 609.8,143.9 610.0,143.8 C610.2,143.7 610.8,141.2 611.0,141.0 C611.2,140.8 611.6,142.7 611.8,142.6 C612.0,142.5 612.5,140.6 612.8,140.3 C613.1,140.0 613.8,140.4 614.2,140.3 C614.6,140.2 614.8,139.5 616.1,139.4 C617.4,139.3 621.8,139.4 623.7,139.4 C625.6,139.4 627.7,139.5 630.0,139.4 C632.3,139.3 638.0,138.7 641.0,138.6 C644.0,138.5 649.7,138.8 652.5,138.8 C655.3,138.8 659.8,138.9 662.0,138.8 C664.2,138.7 667.5,138.2 668.8,138.4 C670.1,138.6 671.0,139.6 671.6,140.3 C672.2,141.0 672.7,143.2 673.5,143.8 C674.3,144.4 676.5,144.3 677.4,145.1 C678.3,145.9 679.4,148.5 680.2,149.9 C681.0,151.3 682.5,154.9 683.1,155.7 C683.7,156.5 684.2,156.3 685.0,156.0 C685.8,155.7 688.1,153.4 688.9,153.4 C689.7,153.4 690.4,154.6 690.8,155.7 C691.2,156.8 691.8,162.5 692.2,162.0 C692.6,161.5 693.1,154.3 693.6,152.3 C694.1,150.3 695.4,147.6 695.8,146.7 C696.2,145.8 696.4,145.3 696.9,145.6 C697.4,145.9 698.5,148.0 699.2,149.0 C699.9,150.0 701.6,152.1 702.5,153.4 C703.4,154.7 705.0,156.8 705.9,159.0 C706.8,161.2 708.4,168.1 709.2,170.2 C710.0,172.3 711.2,173.9 712.0,174.8 C712.8,175.7 714.4,176.3 715.1,176.9 C715.8,177.5 716.7,179.4 717.2,179.0 C717.7,178.6 718.2,172.4 718.6,173.8 C719.0,175.2 719.8,189.4 720.3,189.3 C720.8,189.2 721.9,176.0 722.4,172.8 C722.9,169.6 723.9,166.9 724.4,165.5 C724.9,164.1 726.0,162.0 726.5,162.4 C727.0,162.8 727.7,165.8 728.1,168.6 C728.5,171.4 729.3,180.3 729.6,183.1 C729.9,185.9 730.3,189.8 730.6,189.3 C730.9,188.8 731.4,181.0 731.7,179.0 C732.0,177.0 732.3,173.9 732.7,174.4 C733.1,174.9 734.0,180.3 734.4,183.1 C734.8,185.9 735.4,193.3 735.8,195.5 C736.2,197.7 736.9,199.0 737.3,199.7 C737.7,200.4 738.5,200.1 738.9,200.7 C739.3,201.3 740.1,203.4 740.6,204.2 C741.1,205.0 742.2,206.3 742.6,206.9 C743.0,207.5 743.2,209.7 743.5,209.0 C743.8,208.3 744.3,205.0 744.7,201.8 C745.1,198.6 745.8,188.0 746.2,185.2 C746.6,182.4 747.3,181.9 747.8,180.5 C748.3,179.1 749.6,174.8 750.3,174.6 C751.0,174.4 752.3,176.7 752.9,179.2 C753.5,181.7 754.5,190.1 755.0,193.3 C755.5,196.5 756.1,201.8 756.7,203.5 C757.3,205.2 758.6,205.1 759.3,206.0 C760.0,206.9 761.3,208.7 761.9,209.9 C762.5,211.1 763.2,212.0 763.7,215.0 C764.2,218.0 765.3,231.6 765.9,232.5 C766.5,233.4 767.7,226.4 768.3,221.4 C768.9,216.4 770.2,200.9 770.7,194.7 C771.2,188.5 771.9,179.4 772.3,174.6 C772.7,169.8 773.4,162.6 773.8,159.0 C774.2,155.4 775.1,150.0 775.6,147.8 C776.1,145.6 777.1,143.5 777.8,142.3 C778.5,141.1 780.3,139.0 780.7,138.5" fill="none" stroke="#1a1aff" stroke-width="1.9" stroke-linejoin="round"/>
<g stroke="#7b96d6" stroke-width="1" fill="none">
<line x1="542.5" y1="90.8" x2="552" y2="85.1"/>
<line x1="565.1" y1="80" x2="575.8" y2="90.8"/>
<line x1="671.6" y1="94.8" x2="688.3" y2="90.4"/>
<line x1="704.3" y1="93.2" x2="706.2" y2="73.2"/>
<line x1="714.5" y1="87" x2="714.5" y2="102.3"/>
<line x1="721.6" y1="85.5" x2="729.9" y2="111.9"/>
<line x1="731.3" y1="85.5" x2="737.8" y2="102.3"/>
<line x1="744" y1="69" x2="746.5" y2="83"/>
<line x1="765.4" y1="95.2" x2="767.2" y2="105.8"/>
<line x1="544.3" y1="180.4" x2="554.8" y2="171.3"/>
<line x1="564.5" y1="170" x2="575.3" y2="180.4"/>
<line x1="685" y1="180.5" x2="691" y2="166"/>
<line x1="707.4" y1="199.5" x2="714.8" y2="189"/>
<line x1="728.2" y1="194.6" x2="728.2" y2="208"/>
<line x1="739.4" y1="223.7" x2="744.6" y2="211.4"/>
<line x1="764.2" y1="235.4" x2="765.5" y2="245.5"/>
</g>
<line x1="269.4" y1="38.25" x2="306.4" y2="38.25" stroke="#f23e3e" stroke-width="1.8" stroke-linecap="round"/>
<line x1="269.4" y1="62.9" x2="306.2" y2="62.9" stroke="#2626f0" stroke-width="2" stroke-linecap="round"/>
<text x="40.9" y="21.7" font-size="15.4" fill="#000" font-family="Liberation Serif, serif" font-weight="bold" >A</text>
<text x="441.5" y="21.7" font-size="15.4" fill="#000" font-family="Liberation Serif, serif" font-weight="bold" >B</text>
<text x="314.3" y="40.5" font-size="12.4" fill="#ee3b3b" font-family="Liberation Sans, sans-serif" font-weight="bold" textLength="22.6" lengthAdjust="spacingAndGlyphs" stroke="#ee3b3b" stroke-width="0.3" >NiFe</text>
<line x1="338.0" y1="41.3" x2="341.7" y2="31.8" stroke="#ee3b3b" stroke-width="1.45"/>
<text x="341.6" y="40.5" font-size="12.4" fill="#ee3b3b" font-family="Liberation Sans, sans-serif" font-weight="bold" textLength="6.4" lengthAdjust="spacingAndGlyphs" stroke="#ee3b3b" stroke-width="0.3" >ƒ</text>
<text x="348.0" y="40.5" font-size="12.4" fill="#ee3b3b" font-family="Liberation Sans, sans-serif" font-weight="bold" textLength="27.6" lengthAdjust="spacingAndGlyphs" stroke="#ee3b3b" stroke-width="0.3" >-CNT</text>
<text x="315.6" y="65.0" font-size="11.5" fill="#1c1cf0" font-family="Liberation Sans, sans-serif" font-weight="bold" textLength="24.4" lengthAdjust="spacingAndGlyphs" stroke="#1c1cf0" stroke-width="0.3" >NiFe</text>
<text x="281.8" y="229.5" font-size="15.8" fill="#1616f8" font-family="Liberation Serif, serif" font-weight="bold" textLength="102.6" lengthAdjust="spacingAndGlyphs" >JCPDS-15-006</text>
<text x="34.5" y="282.3" font-size="11.0" fill="#151515" font-family="Liberation Sans, sans-serif" font-weight="bold" stroke="#151515" stroke-width="0.3" text-anchor="middle">20</text>
<text x="94.3" y="282.3" font-size="11.0" fill="#151515" font-family="Liberation Sans, sans-serif" font-weight="bold" stroke="#151515" stroke-width="0.3" text-anchor="middle">30</text>
<text x="154.1" y="282.3" font-size="11.0" fill="#151515" font-family="Liberation Sans, sans-serif" font-weight="bold" stroke="#151515" stroke-width="0.3" text-anchor="middle">40</text>
<text x="213.8" y="282.3" font-size="11.0" fill="#151515" font-family="Liberation Sans, sans-serif" font-weight="bold" stroke="#151515" stroke-width="0.3" text-anchor="middle">50</text>
<text x="273.6" y="282.3" font-size="11.0" fill="#151515" font-family="Liberation Sans, sans-serif" font-weight="bold" stroke="#151515" stroke-width="0.3" text-anchor="middle">60</text>
<text x="333.4" y="282.3" font-size="11.0" fill="#151515" font-family="Liberation Sans, sans-serif" font-weight="bold" stroke="#151515" stroke-width="0.3" text-anchor="middle">70</text>
<text x="393.2" y="282.3" font-size="11.0" fill="#151515" font-family="Liberation Sans, sans-serif" font-weight="bold" stroke="#151515" stroke-width="0.3" text-anchor="middle">80</text>
<text x="445.7" y="283.3" font-size="10.6" fill="#151515" font-family="Liberation Sans, sans-serif" font-weight="bold" textLength="23.4" lengthAdjust="spacingAndGlyphs" stroke="#151515" stroke-width="0.3" text-anchor="middle">4000</text>
<text x="495.7" y="283.3" font-size="10.6" fill="#151515" font-family="Liberation Sans, sans-serif" font-weight="bold" textLength="23.4" lengthAdjust="spacingAndGlyphs" stroke="#151515" stroke-width="0.3" text-anchor="middle">3500</text>
<text x="545.6" y="283.3" font-size="10.6" fill="#151515" font-family="Liberation Sans, sans-serif" font-weight="bold" textLength="23.4" lengthAdjust="spacingAndGlyphs" stroke="#151515" stroke-width="0.3" text-anchor="middle">3000</text>
<text x="595.6" y="283.3" font-size="10.6" fill="#151515" font-family="Liberation Sans, sans-serif" font-weight="bold" textLength="23.4" lengthAdjust="spacingAndGlyphs" stroke="#151515" stroke-width="0.3" text-anchor="middle">2500</text>
<text x="645.6" y="283.3" font-size="10.6" fill="#151515" font-family="Liberation Sans, sans-serif" font-weight="bold" textLength="23.4" lengthAdjust="spacingAndGlyphs" stroke="#151515" stroke-width="0.3" text-anchor="middle">2000</text>
<text x="695.6" y="283.3" font-size="10.6" fill="#151515" font-family="Liberation Sans, sans-serif" font-weight="bold" textLength="23.4" lengthAdjust="spacingAndGlyphs" stroke="#151515" stroke-width="0.3" text-anchor="middle">1500</text>
<text x="745.5" y="283.3" font-size="10.6" fill="#151515" font-family="Liberation Sans, sans-serif" font-weight="bold" textLength="23.4" lengthAdjust="spacingAndGlyphs" stroke="#151515" stroke-width="0.3" text-anchor="middle">1000</text>
<text x="170.3" y="308.2" font-size="14" fill="#151515" font-family="Liberation Sans, sans-serif" font-weight="bold" textLength="83.7" lengthAdjust="spacingAndGlyphs" stroke="#151515" stroke-width="0.3" >2θ (degrees)</text>
<text x="559.1" y="307.9" font-size="14" fill="#151515" stroke="#151515" stroke-width="0.3" font-family="Liberation Sans, sans-serif" font-weight="bold" textLength="128.6" lengthAdjust="spacingAndGlyphs">Wavenumber(cm<tspan dy="-5" font-size="9">-1</tspan><tspan dy="5">)</tspan></text>
<text transform="translate(12.5,169) rotate(-90)" x="0" y="0" font-size="14.5" fill="#151515" stroke="#151515" stroke-width="0.25" font-family="Liberation Sans, sans-serif" font-weight="bold" textLength="92" lengthAdjust="spacingAndGlyphs">Intensity (a.u)</text>
<text transform="translate(425.3,191.3) rotate(-90)" x="0" y="0" font-size="14.5" fill="#151515" stroke="#151515" stroke-width="0.25" font-family="Liberation Sans, sans-serif" font-weight="bold" textLength="129.3" lengthAdjust="spacingAndGlyphs">Transmittance (a.u)</text>
<text x="693.3" y="37.6" font-size="12.6" fill="#ee3b3b" font-family="Liberation Sans, sans-serif" font-weight="bold" textLength="23.4" lengthAdjust="spacingAndGlyphs" stroke="#ee3b3b" stroke-width="0.3" >NiFe</text>
<line x1="717.5" y1="38.6" x2="721.5" y2="28.6" stroke="#ee3b3b" stroke-width="1.5"/>
<text x="720.9" y="37.6" font-size="12.6" fill="#ee3b3b" font-family="Liberation Sans, sans-serif" font-weight="bold" textLength="6.6" lengthAdjust="spacingAndGlyphs" stroke="#ee3b3b" stroke-width="0.3" >ƒ</text>
<text x="727.6" y="37.6" font-size="12.6" fill="#ee3b3b" font-family="Liberation Sans, sans-serif" font-weight="bold" textLength="27.0" lengthAdjust="spacingAndGlyphs" stroke="#ee3b3b" stroke-width="0.3" >-CNT</text>
<text x="715.3" y="151.8" font-size="12.8" fill="#1515ff" font-family="Liberation Sans, sans-serif" font-weight="bold" textLength="25.0" lengthAdjust="spacingAndGlyphs" stroke="#1515ff" stroke-width="0.3" >NiFe</text>
<text x="524.5" y="99" font-size="8.3" fill="#151515" font-family="Liberation Sans, sans-serif" font-weight="bold" textLength="26.1" lengthAdjust="spacingAndGlyphs" stroke="#151515" stroke-width="0.3" >2914.6</text>
<text x="569.9" y="99" font-size="8.3" fill="#151515" font-family="Liberation Sans, sans-serif" font-weight="bold" textLength="25.6" lengthAdjust="spacingAndGlyphs" stroke="#151515" stroke-width="0.3" >2847.1</text>
<text x="656.6" y="103.8" font-size="8.3" fill="#151515" font-family="Liberation Sans, sans-serif" font-weight="bold" textLength="26.2" lengthAdjust="spacingAndGlyphs" stroke="#151515" stroke-width="0.3" >1537.2</text>
<text x="694.7" y="105" font-size="8.3" fill="#151515" font-family="Liberation Sans, sans-serif" font-weight="bold" textLength="17.8" lengthAdjust="spacingAndGlyphs" stroke="#151515" stroke-width="0.3" >1461</text>
<text x="702" y="113.5" font-size="8.3" fill="#151515" font-family="Liberation Sans, sans-serif" font-weight="bold" textLength="25.7" lengthAdjust="spacingAndGlyphs" stroke="#151515" stroke-width="0.3" >1330.7</text>
<text x="720.2" y="122.8" font-size="8.3" fill="#151515" font-family="Liberation Sans, sans-serif" font-weight="bold" textLength="25.9" lengthAdjust="spacingAndGlyphs" stroke="#151515" stroke-width="0.3" >1255.5</text>
<text x="737.3" y="111" font-size="8.3" fill="#151515" font-family="Liberation Sans, sans-serif" font-weight="bold" textLength="18.6" lengthAdjust="spacingAndGlyphs" stroke="#151515" stroke-width="0.3" >1159</text>
<text x="743.6" y="92.1" font-size="8.3" fill="#151515" font-family="Liberation Sans, sans-serif" font-weight="bold" textLength="18.3" lengthAdjust="spacingAndGlyphs" stroke="#151515" stroke-width="0.3" >1015</text>
<text x="758.9" y="115.1" font-size="8.3" fill="#151515" font-family="Liberation Sans, sans-serif" font-weight="bold" textLength="26.4" lengthAdjust="spacingAndGlyphs" stroke="#151515" stroke-width="0.3" >800.07</text>
<text x="524.5" y="189.6" font-size="8.3" fill="#151515" font-family="Liberation Sans, sans-serif" font-weight="bold" textLength="26.1" lengthAdjust="spacingAndGlyphs" stroke="#151515" stroke-width="0.3" >2914.9</text>
<text x="563" y="189.6" font-size="8.3" fill="#151515" font-family="Liberation Sans, sans-serif" font-weight="bold" textLength="25.8" lengthAdjust="spacingAndGlyphs" stroke="#151515" stroke-width="0.3" >2847.1</text>
<text x="671.6" y="189" font-size="8.3" fill="#151515" font-family="Liberation Sans, sans-serif" font-weight="bold" textLength="26.4" lengthAdjust="spacingAndGlyphs" stroke="#151515" stroke-width="0.3" >1538.2</text>
<text x="690.9" y="209.1" font-size="8.3" fill="#151515" font-family="Liberation Sans, sans-serif" font-weight="bold" textLength="26.1" lengthAdjust="spacingAndGlyphs" stroke="#151515" stroke-width="0.3" >1256.5</text>
<text x="714.1" y="217.4" font-size="8.3" fill="#151515" font-family="Liberation Sans, sans-serif" font-weight="bold" textLength="26.0" lengthAdjust="spacingAndGlyphs" stroke="#151515" stroke-width="0.3" >1152.7</text>
<text x="727.1" y="236" font-size="8.3" fill="#151515" font-family="Liberation Sans, sans-serif" font-weight="bold" textLength="25.7" lengthAdjust="spacingAndGlyphs" stroke="#151515" stroke-width="0.3" >1021.4</text>
<text x="758.8" y="254.9" font-size="8.3" fill="#151515" font-family="Liberation Sans, sans-serif" font-weight="bold" textLength="25.7" lengthAdjust="spacingAndGlyphs" stroke="#151515" stroke-width="0.3" >800.07</text>
</svg>
</body></html>
